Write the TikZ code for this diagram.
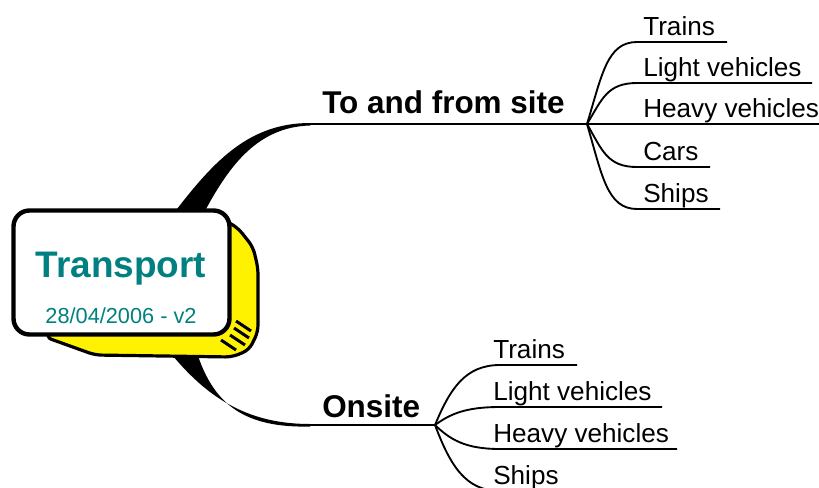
\documentclass[tikz,border=0pt]{standalone}
\usepackage{fontspec}
\setmainfont{Liberation Sans}
\definecolor{titleteal}{RGB}{0,128,128}

\tikzset{
  leaf/.style={anchor=base west, inner sep=0pt, font=\fontsize{19.6}{22}\selectfont},
  branchlabel/.style={anchor=base west, inner sep=0pt, font=\bfseries\fontsize{23.6}{27}\selectfont},
  twig/.style={line width=1.4pt},
  centerbox/.style={draw, fill=white, line width=3.3pt, rounded corners=12pt,
    minimum width=162pt, minimum height=93pt, inner sep=0pt},
}

\begin{document}
\begin{tikzpicture}[x=0.75pt,y=-0.75pt]
\useasboundingbox (0,0) rectangle (819,487);

% thick arms out of the centre
\fill (177,209) .. controls (215,160) and (250,123) .. (310,123) -- (310,125.5)
  .. controls (258,127) and (230,165) .. (206,209) -- cycle;
\fill (173,356) .. controls (210,400) and (250,424) .. (310,424) -- (310,426.5)
  .. controls (245,428) and (215,405) .. (198,356) -- cycle;
\coordinate (sitearm) at (308,124);
\coordinate (onarm) at (308,425);

% yellow 3d side
\filldraw[fill=yellow, line width=2.4pt, rounded corners=5pt]
  (214,214) -- (238,228) -- (253,247) -- (258,268) -- (258,332) -- (249,350)
  -- (232,357) -- (95,355) -- (45,337) -- cycle;
\foreach \a/\b in {236/321, 234/328, 230/335, 221/340}{
  \draw[line width=2.2pt] (\a,\b) -- ++(15,10);
}

\node[centerbox] (transport) at (121.5,272.5) {};
\node[anchor=base, inner sep=0pt, text=titleteal, font=\bfseries\fontsize{27.7}{30}\selectfont]
  (title) at (121,277) {Transport};
\node[anchor=base, inner sep=0pt, text=titleteal, font=\fontsize{16.3}{19}\selectfont]
  (date) at (121,323) {28/04/2006 - v2};

% to and from site
\node[branchlabel] (site) at (322,113) {To and from site};
\begin{scope}[shift={(587,124)}]
  \coordinate (sitehub) at (0,0);
  \draw[twig] (sitearm) -- (sitehub);
  \foreach \dy/\len/\txt [count=\i] in {-82/90/Trains, -41/175/Light vehicles,
      0/182/Heavy vehicles, 43/73/Cars, 85/83/Ships}{
    \coordinate (sites\i) at (50,\dy);
    \coordinate (sitee\i) at (50+\len,\dy);
    \draw[twig] (sitehub) .. controls +(15,0.6*\dy) and +(-30,0) .. (sites\i) -- (sitee\i);
    \node[leaf] (site\i) at (56,\dy-7) {\txt};
  }
\end{scope}

% onsite
\node[branchlabel] (onsite) at (322,417) {Onsite};
\begin{scope}[shift={(435,425)}]
  \coordinate (onhub) at (0,0);
  \draw[twig] (onarm) -- (onhub);
  \foreach \dy/\len/\txt [count=\i] in {-60/77/Trains, -18/162/Light vehicles,
      24/177/Heavy vehicles, 66/70/Ships}{
    \coordinate (ons\i) at (65,\dy);
    \coordinate (one\i) at (65+\len,\dy);
    \draw[twig] (onhub) .. controls +(15,0.6*\dy) and +(-35,0) .. (ons\i) -- (one\i);
    \node[leaf] (on\i) at (58,\dy-7) {\txt};
  }
\end{scope}
\end{tikzpicture}
\end{document}
